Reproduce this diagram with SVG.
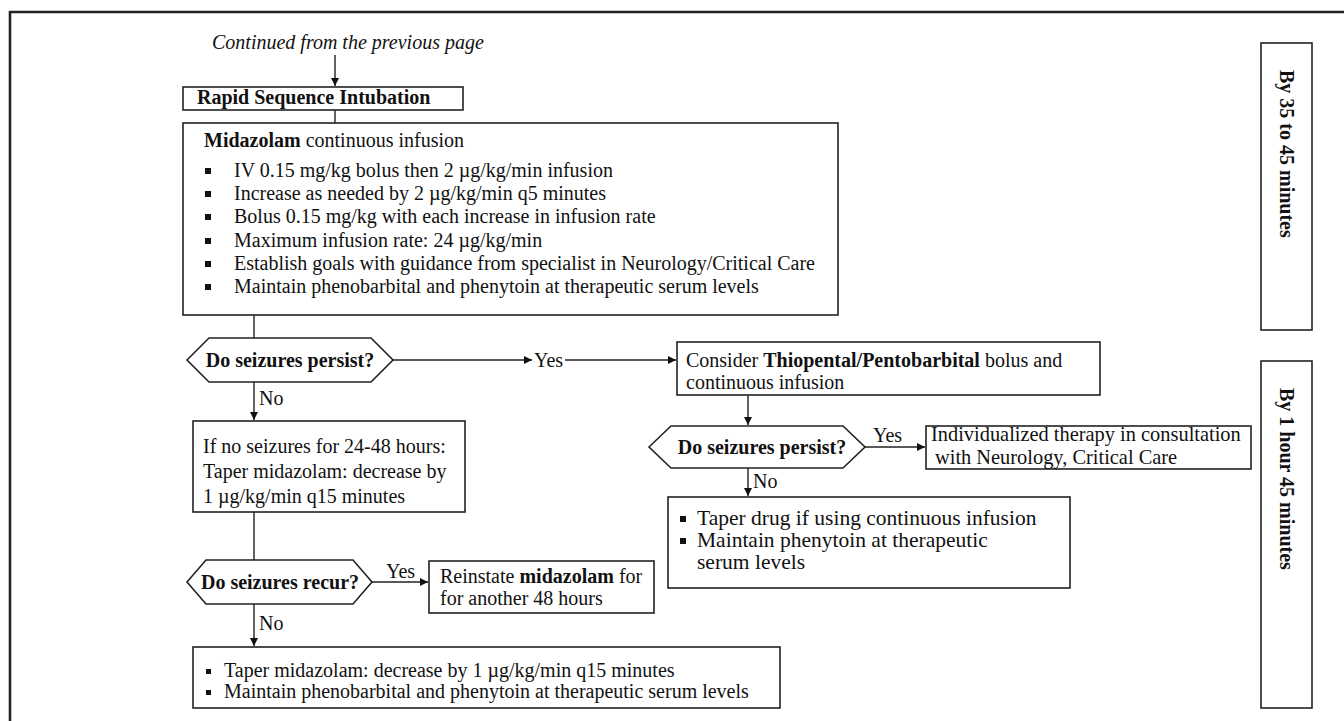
<svg xmlns="http://www.w3.org/2000/svg" width="1344" height="721" viewBox="0 0 1344 721">
<style>
  text { font-family: "Liberation Serif", "Times New Roman", serif; font-size: 20px; fill: #111; }
  .b { font-weight: bold; }
  .i { font-style: italic; }
  .lg { font-size: 21.5px; }
  .md { font-size: 20.4px; }
  .box { fill: #fff; stroke: #222; stroke-width: 1.6; }
  .frame { fill: none; stroke: #222; stroke-width: 2.6; }
  .ln { fill: none; stroke: #222; stroke-width: 1.4; }
  .bul { fill: #111; }
</style>
<defs>
  <marker id="ah" viewBox="0 0 10 10" refX="10" refY="5" markerWidth="9" markerHeight="8" markerUnits="userSpaceOnUse" orient="auto">
    <path d="M0,0 L10,5 L0,10 z" fill="#111"/>
  </marker>
</defs>
<rect width="1344" height="721" fill="#fff"/>
<path class="frame" d="M10,721 L10,12 L1344,12"/>

<g id="connectors">
  <line class="ln" x1="335" y1="55" x2="335" y2="86" marker-end="url(#ah)"/>
  <line class="ln" x1="335" y1="110" x2="335" y2="123"/>
  <line class="ln" x1="254" y1="315" x2="254" y2="338"/>
  <line class="ln" x1="393" y1="360" x2="532" y2="360" marker-end="url(#ah)"/>
  <line class="ln" x1="565" y1="360" x2="676" y2="360" marker-end="url(#ah)"/>
  <line class="ln" x1="254" y1="382" x2="254" y2="420" marker-end="url(#ah)"/>
  <line class="ln" x1="254" y1="512" x2="254" y2="560"/>
  <line class="ln" x1="372" y1="582" x2="428" y2="582" marker-end="url(#ah)"/>
  <line class="ln" x1="254" y1="604" x2="254" y2="646" marker-end="url(#ah)"/>
  <line class="ln" x1="748" y1="395" x2="748" y2="425" marker-end="url(#ah)"/>
  <line class="ln" x1="865" y1="447" x2="925" y2="447" marker-end="url(#ah)"/>
  <line class="ln" x1="748" y1="468" x2="748" y2="496" marker-end="url(#ah)"/>
  <text x="534" y="367">Yes</text>
  <text x="259" y="405">No</text>
  <text x="386" y="578">Yes</text>
  <text x="259" y="630">No</text>
  <text x="873" y="442">Yes</text>
  <text x="753" y="488">No</text>
</g>

<g id="continued">
  <text class="i" x="212" y="49">Continued from the previous page</text>
</g>

<g id="rsi">
  <rect class="box" x="183" y="87" width="280" height="23"/>
  <text class="b" x="197" y="104">Rapid Sequence Intubation</text>
</g>

<g id="midazolam">
  <rect class="box" x="183" y="123" width="655" height="192"/>
  <text x="204" y="147"><tspan class="b">Midazolam</tspan> continuous infusion</text>
  <rect class="bul" x="205" y="168" width="6" height="6"/>
  <rect class="bul" x="205" y="191" width="6" height="6"/>
  <rect class="bul" x="205" y="214" width="6" height="6"/>
  <rect class="bul" x="205" y="238" width="6" height="6"/>
  <rect class="bul" x="205" y="261" width="6" height="6"/>
  <rect class="bul" x="205" y="284" width="6" height="6"/>
  <text x="234" y="177">IV 0.15 mg/kg bolus then 2 µg/kg/min infusion</text>
  <text x="234" y="200">Increase as needed by 2 µg/kg/min q5 minutes</text>
  <text x="234" y="223">Bolus 0.15 mg/kg with each increase in infusion rate</text>
  <text x="234" y="247">Maximum infusion rate: 24 µg/kg/min</text>
  <text x="234" y="270">Establish goals with guidance from specialist in Neurology/Critical Care</text>
  <text x="234" y="293">Maintain phenobarbital and phenytoin at therapeutic serum levels</text>
</g>

<g id="persist1">
  <polygon class="box" points="187,360 209,338 371,338 393,360 371,382 209,382"/>
  <text class="b" x="290" y="367" text-anchor="middle">Do seizures persist?</text>
</g>

<g id="noseizures">
  <rect class="box" x="193" y="421" width="272" height="91"/>
  <text x="203" y="453">If no seizures for 24-48 hours:</text>
  <text x="203" y="478">Taper midazolam: decrease by</text>
  <text x="203" y="503">1 µg/kg/min q15 minutes</text>
</g>

<g id="recur">
  <polygon class="box" points="187,582 206,560 353,560 372,582 353,604 206,604"/>
  <text class="b" x="280" y="589" text-anchor="middle">Do seizures recur?</text>
</g>

<g id="reinstate">
  <rect class="box" x="429" y="561" width="225" height="52"/>
  <text x="440" y="583">Reinstate <tspan class="b">midazolam</tspan> for</text>
  <text x="440" y="605">for another 48 hours</text>
</g>

<g id="taperbottom">
  <rect class="box" x="193" y="647" width="587" height="61"/>
  <rect class="bul" x="206" y="669" width="5" height="5"/>
  <rect class="bul" x="206" y="690" width="5" height="5"/>
  <text x="224" y="677">Taper midazolam: decrease by 1 µg/kg/min q15 minutes</text>
  <text x="224" y="698">Maintain phenobarbital and phenytoin at therapeutic serum levels</text>
</g>

<g id="thiopental">
  <rect class="box" x="677" y="342" width="423" height="53"/>
  <text x="686" y="367">Consider <tspan class="b">Thiopental/Pentobarbital</tspan> bolus and</text>
  <text x="686" y="389">continuous infusion</text>
</g>

<g id="persist2">
  <polygon class="box" points="649,447 671,426 843,426 865,447 843,468 671,468"/>
  <text class="b" x="762" y="454" text-anchor="middle">Do seizures persist?</text>
</g>

<g id="individualized">
  <rect class="box" x="926" y="426" width="325" height="43"/>
  <text class="md" x="931" y="441">Individualized therapy in consultation</text>
  <text class="md" x="935" y="464">with Neurology, Critical Care</text>
</g>

<g id="taperright">
  <rect class="box" x="668" y="497" width="402" height="91"/>
  <rect class="bul" x="680" y="516" width="6" height="6"/>
  <rect class="bul" x="680" y="538" width="6" height="6"/>
  <text class="lg" x="697" y="525">Taper drug if using continuous infusion</text>
  <text class="lg" x="697" y="547">Maintain phenytoin at therapeutic</text>
  <text class="lg" x="697" y="569">serum levels</text>
</g>

<g id="time1">
  <rect class="box" x="1261" y="43" width="51" height="287"/>
  <text class="b" transform="translate(1280,70) rotate(90)">By 35 to 45 minutes</text>
</g>

<g id="time2">
  <rect class="box" x="1261" y="361" width="51" height="347"/>
  <text class="b" transform="translate(1280,388) rotate(90)">By 1 hour 45 minutes</text>
</g>
</svg>
